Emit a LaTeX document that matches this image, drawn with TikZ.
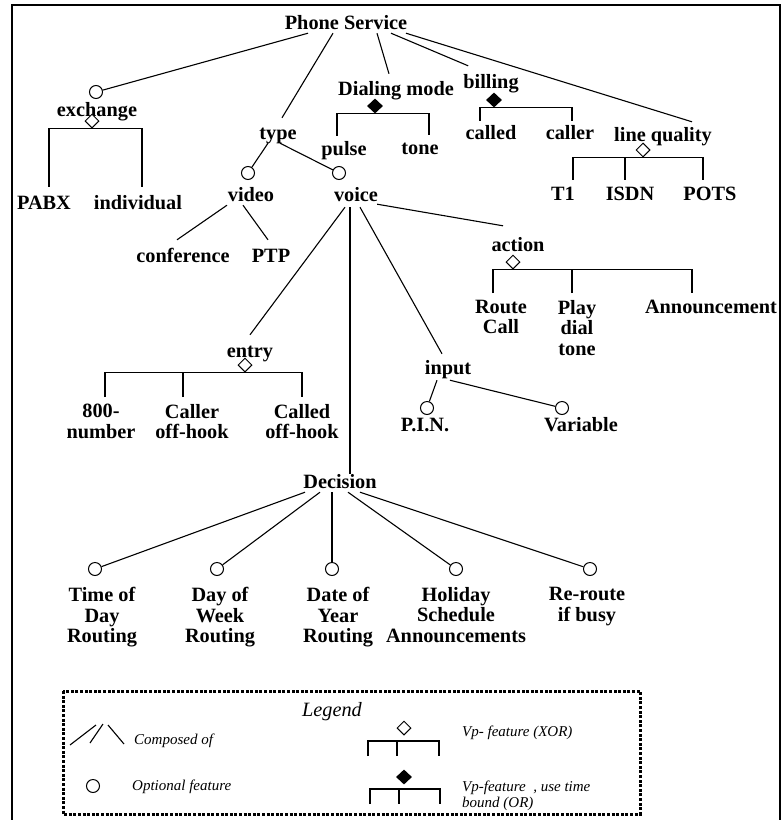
\documentclass[tikz,border=0pt]{standalone}
\usepackage{fontspec}
\setmainfont{Liberation Serif}
\usetikzlibrary{shapes.geometric,calc}
\begin{document}
\begin{tikzpicture}[x=1pt,y=-1pt,
  feat/.style={font=\fontsize{20.3}{20.5}\selectfont\bfseries, inner sep=0pt, text height=14pt, text depth=4pt},
  mfeat/.style={font=\fontsize{20.3}{20.5}\selectfont\bfseries, inner sep=0pt, align=center, anchor=north},
  optc/.style={circle, draw, line width=1pt, minimum size=13pt, inner sep=0pt},
  xorvp/.style={diamond, draw, line width=1pt, fill=white, minimum width=14pt, minimum height=14pt, inner sep=0pt},
  orvp/.style={diamond, fill=black, minimum width=16pt, minimum height=15pt, inner sep=0pt},
  conn/.style={line width=1.1pt},
  legtxt/.style={font=\fontsize{15}{16}\selectfont\itshape, inner sep=0pt, align=left, anchor=west},
  legbox/.style={line width=3pt, dash pattern=on 3pt off 1.6pt},
  frame/.style={line width=2.5pt},
]
\useasboundingbox (0,0) rectangle (783,820);
\fill[white] (0,0) rectangle (783,820);

% outer frame, open at the bottom
\draw[frame] (12,822) -- (12,5) -- (780,5) -- (780,822);

% ---------- feature nodes ----------
\node[feat] (ps) at (346,24) {Phone Service};

\node[optc] (exo) at (96,92) {};
\node[feat] (exch) at (97,111) {exchange};
\node[xorvp] (exd) at (92,121) {};
\node[feat] (pabx) at (44,204) {PABX};
\node[feat] (indiv) at (138,204) {individual};

\node[feat] (type) at (278,134) {type};
\node[optc] (vio) at (248,173) {};
\node[optc] (voo) at (339,173) {};
\node[feat] (video) at (251,196) {video};
\node[feat] (voice) at (356,196) {voice};
\node[feat] (conf) at (183,257) {conference};
\node[feat] (ptp) at (271,257) {PTP};

\node[feat] (dm) at (396,90) {Dialing mode};
\node[orvp] (dmd) at (375,106) {};
\node[feat] (pulse) at (344,150) {pulse};
\node[feat] (tone) at (420,149) {tone};

\node[feat] (bill) at (491,83) {billing};
\node[orvp] (bd) at (494,100) {};
\node[feat] (called) at (491,134) {called};
\node[feat] (caller) at (570,134) {caller};

\node[feat] (lq) at (663,136) {line quality};
\node[xorvp] (lqd) at (643,150) {};
\node[feat] (t1) at (563,195) {T1};
\node[feat] (isdn) at (630,195) {ISDN};
\node[feat] (pots) at (710,195) {POTS};

\node[feat] (entry) at (250,352) {entry};
\node[xorvp] (ed) at (245,365) {};
\node[mfeat] (n800) at (101,404) {800-\\number};
\node[mfeat] (callerh) at (192,404) {Caller\\off-hook};
\node[mfeat] (calledh) at (302,404) {Called\\off-hook};

\node[feat] (action) at (518,246) {action};
\node[xorvp] (ad) at (513,262) {};
\node[mfeat] (route) at (501,300) {Route\\Call};
\node[mfeat] (play) at (577,300) {Play\\dial\\tone};
\node[mfeat] (ann) at (711,300) {Announcement};

\node[feat] (input) at (448,369) {input};
\node[optc] (pino) at (427,408) {};
\node[optc] (varo) at (562,408) {};
\node[feat] (pin) at (425,426) {P.I.N.};
\node[feat] (var) at (581,426) {Variable};

\node[feat] (dec) at (340,483) {Decision};
\node[optc] (d1) at (95,569) {};
\node[optc] (d2) at (217,569) {};
\node[optc] (d3) at (332,569) {};
\node[optc] (d4) at (456,569) {};
\node[optc] (d5) at (590,569) {};
\node[mfeat] (tod) at (102,587) {Time of\\Day\\Routing};
\node[mfeat] (dow) at (220,587) {Day of\\Week\\Routing};
\node[mfeat] (doy) at (338,587) {Date of\\Year\\Routing};
\node[mfeat] (hol) at (456,587) {Holiday\\Schedule\\Announcements};
\node[mfeat] (reb) at (587,587) {Re-route\\if busy};

% ---------- composition links ----------
\draw[conn] ($(ps.south)+(-38,0)$) -- (exo);
\draw[conn] ($(ps.south)+(-13,0)$) -- ($(type.north)+(4,-7)$);
\draw[conn] ($(ps.south)+(31,0)$) -- ($(dm.north)+(-7,-7)$);
\draw[conn] ($(ps.south)+(45,0)$) -- ($(bill.north west)+(5,-8)$);
\draw[conn] ($(ps.south)+(60,0)$) -- ($(lq.north)+(29,-5)$);

\draw[conn] ($(type.south)+(-10,0)$) -- (vio);
\draw[conn] ($(type.south)+(2,0)$) -- (voo);
\draw[conn] ($(video.south)+(-24,0)$) -- ($(conf.north)+(-6,-8)$);
\draw[conn] ($(video.south)+(-8,0)$) -- ($(ptp.north)+(-3,-8)$);

\draw[conn] ($(voice.south)+(-11,2)$) -- ($(entry.north)+(0,-8)$);
\coordinate (vd) at ($(voice.south)+(-6,2)$);
\draw[conn] (vd) -- (vd |- dec.north);
\draw[conn] ($(voice.south)+(4,2)$) -- ($(input.north)+(-6,-6)$);
\draw[conn] ($(voice.south east)+(-1,-1)$) -- ($(action.north)+(-15,-11)$);

\draw[conn] ($(input.south)+(-11,2)$) -- (pino);
\draw[conn] ($(input.south)+(2,2)$) -- (varo);

\draw[conn] ($(dec.south)+(-35,0)$) -- (d1);
\draw[conn] ($(dec.south)+(-20,0)$) -- (d2);
\draw[conn] ($(dec.south)+(-8,0)$) -- (d3);
\draw[conn] ($(dec.south)+(8,0)$) -- (d4);
\draw[conn] ($(dec.south)+(20,0)$) -- (d5);

% ---------- variation point bars ----------
\draw[conn] ($(pabx.north)+(5,-8)$) |- (exd.south) -| ($(indiv.north)+(4,-8)$);
\draw[conn] ($(pulse.north)+(-7,-5)$) |- (dmd.south) -| ($(tone.north)+(9,-5)$);
\draw[conn] ($(called.north)+(-11,-4)$) |- (bd.south) -| ($(caller.north)+(2,-4)$);

\draw[conn] ($(t1.north)+(10,-6)$) |- (lqd.south) -| ($(pots.north)+(-7,-6)$);
\coordinate (isdntop) at ($(isdn.north)+(-5,-6)$);
\draw[conn] (isdntop) -- (isdntop |- lqd.south);

\draw[conn] ($(n800.north)+(4,-7)$) |- (ed.south) -| ($(calledh.north)+(0,-7)$);
\coordinate (callertop) at ($(callerh.north)+(-9,-7)$);
\draw[conn] (callertop) -- (callertop |- ed.south);

\draw[conn] ($(route.north)+(-8,-7)$) |- (ad.south) -| ($(ann.north)+(-19,-7)$);
\coordinate (playtop) at ($(play.north)+(-5,-7)$);
\draw[conn] (playtop) -- (playtop |- ad.south);

% ---------- legend ----------
\draw[legbox] (63,691) rectangle (640,814);
\node[font=\fontsize{20.3}{21}\selectfont\itshape, inner sep=0pt] (legtitle) at (332,712) {Legend};

\draw[conn] (70,745) -- (96,725);
\draw[conn] (90,743) -- (103,724);
\draw[conn] (108,725) -- (124,744);
\node[legtxt] (lcomp) at (134,741) {Composed of};

\node[optc] (lopt) at (93,786) {};
\node[legtxt] (lopttxt) at (132,787) {Optional feature};

\node[xorvp] (lxor) at (404,728) {};
\draw[conn] (368,756) |- (439,741) -- (439,756);
\draw[conn] (397,741) -- (397,756);
\node[legtxt] (lxortxt) at (462,733) {Vp- feature (XOR)};

\node[orvp] (lor) at (404,777) {};
\draw[conn] (370,804) |- (440,789) -- (440,804);
\draw[conn] (399,789) -- (399,804);
\node[legtxt, anchor=north west] (lortxt) at (462,781) {Vp-feature\ \ , use time\\bound (OR)};
\end{tikzpicture}
\end{document}
